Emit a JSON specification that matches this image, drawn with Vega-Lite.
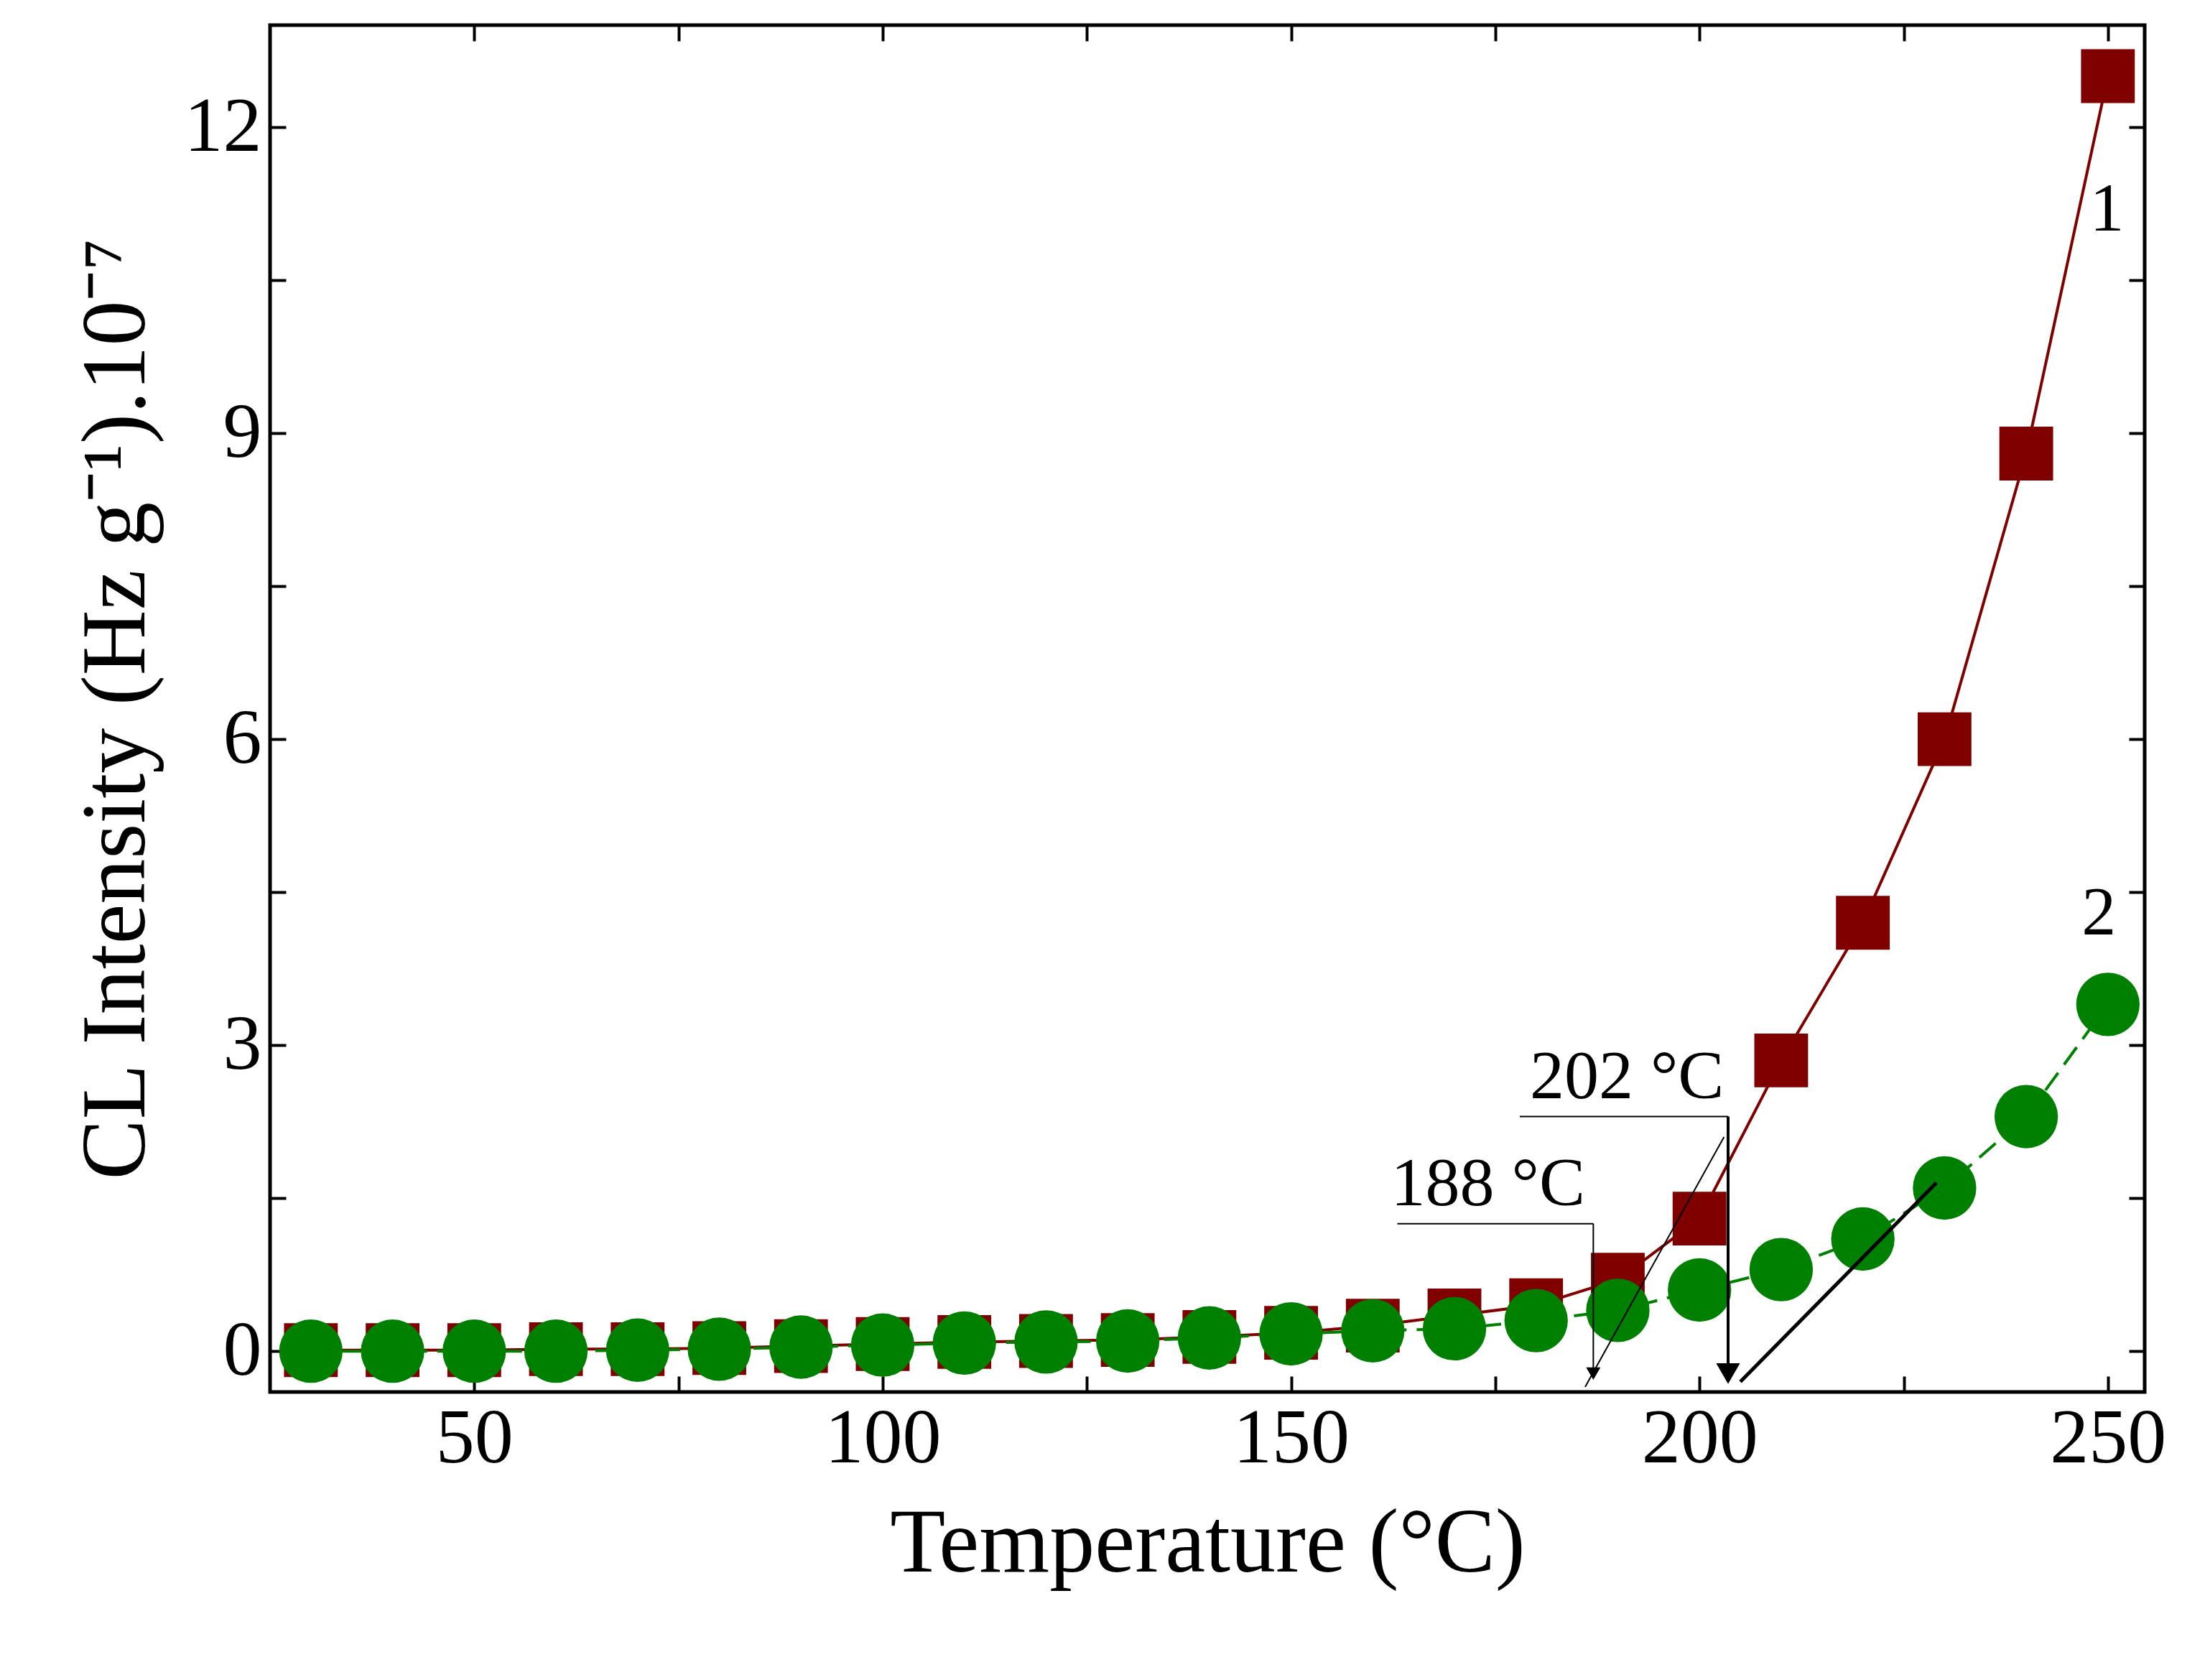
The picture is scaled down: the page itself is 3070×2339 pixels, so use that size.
{
"$schema":"https://vega.github.io/schema/vega-lite/v6.json",
"width":2610,"height":1903,"autosize":"none",
"padding":{"left":376,"top":35,"right":84,"bottom":401},
"background":"white",
"config":{"font":"Liberation Serif","view":{"stroke":"black","strokeWidth":5},
"axis":{"labelFont":"Liberation Serif","titleFont":"Liberation Serif","labelFontSize":108,"titleFontSize":126,"titleFontWeight":"normal","labelColor":"black","titleColor":"black","domain":false,"grid":false,"tickColor":"black","tickWidth":4,"tickSize":-22,"labelPadding":34}},
"datasets":{
"pts":[
{"T":30,"s":"1","v":0.01},{"T":40,"s":"1","v":0.01},{"T":50,"s":"1","v":0.01},{"T":60,"s":"1","v":0.02},{"T":70,"s":"1","v":0.02},{"T":80,"s":"1","v":0.03},{"T":90,"s":"1","v":0.05},{"T":100,"s":"1","v":0.07},{"T":110,"s":"1","v":0.09},{"T":120,"s":"1","v":0.1},{"T":130,"s":"1","v":0.11},{"T":140,"s":"1","v":0.14},{"T":150,"s":"1","v":0.18},{"T":160,"s":"1","v":0.25},{"T":170,"s":"1","v":0.35},{"T":180,"s":"1","v":0.45},{"T":190,"s":"1","v":0.7},{"T":200,"s":"1","v":1.3},{"T":210,"s":"1","v":2.85},{"T":220,"s":"1","v":4.2},{"T":230,"s":"1","v":6.0},{"T":240,"s":"1","v":8.8},{"T":250,"s":"1","v":12.5},
{"T":30,"s":"2","v":0.0},{"T":40,"s":"2","v":0.0},{"T":50,"s":"2","v":0.0},{"T":60,"s":"2","v":0.0},{"T":70,"s":"2","v":0.01},{"T":80,"s":"2","v":0.02},{"T":90,"s":"2","v":0.04},{"T":100,"s":"2","v":0.06},{"T":110,"s":"2","v":0.08},{"T":120,"s":"2","v":0.09},{"T":130,"s":"2","v":0.1},{"T":140,"s":"2","v":0.13},{"T":150,"s":"2","v":0.17},{"T":160,"s":"2","v":0.2},{"T":170,"s":"2","v":0.22},{"T":180,"s":"2","v":0.3},{"T":190,"s":"2","v":0.4},{"T":200,"s":"2","v":0.6},{"T":210,"s":"2","v":0.8},{"T":220,"s":"2","v":1.1},{"T":230,"s":"2","v":1.6},{"T":240,"s":"2","v":2.3},{"T":250,"s":"2","v":3.4}],
"segs":[
{"x1":163,"y1":1.25,"x2":187,"y2":1.25,"w":2},{"x1":187,"y1":1.25,"x2":187,"y2":-0.2,"w":2},{"x1":186,"y1":-0.35,"x2":203,"y2":2.1,"w":2},
{"x1":178,"y1":2.3,"x2":203.5,"y2":2.3,"w":2},{"x1":203.5,"y1":2.3,"x2":203.5,"y2":-0.2,"w":4},{"x1":205,"y1":-0.3,"x2":229,"y2":1.65,"w":5}],
"heads":[{"x":187,"y":-0.22,"sz":400},{"x":203.5,"y":-0.22,"sz":1100}],
"labels":[{"x":186,"y":1.25,"t":"188 °C"},{"x":203,"y":2.3,"t":"202 °C"},{"x":252,"y":10.8,"t":"1"},{"x":251,"y":3.9,"t":"2"}]
},
"encoding":{
"x":{"field":"T","type":"quantitative","scale":{"domain":[25,254.5],"nice":false,"zero":false},
 "axis":{"title":"Temperature (°C)","values":[50,75,100,125,150,175,200,225,250],"labelExpr":"datum.value%50==0?datum.label:''","titlePadding":30}},
"y":{"field":"v","type":"quantitative","scale":{"domain":[-0.4,13],"nice":false,"zero":false},
 "axis":{"title":"CL Intensity (Hz g⁻¹).10⁻⁷","values":[0,1.5,3,4.5,6,7.5,9,10.5,12],"labelExpr":"datum.value%3==0?datum.label:''","titlePadding":30}}
},
"resolve":{"axis":{"x":"independent","y":"independent"}},
"layer":[
{"layer":[
{"data":{"name":"pts"},"transform":[{"filter":"datum.s=='1'"}],"mark":{"type":"line","color":"#800000","strokeWidth":4}},
{"data":{"name":"pts"},"transform":[{"filter":"datum.s=='2'"}],"mark":{"type":"line","color":"#008000","strokeWidth":4,"strokeDash":[30,14]}},
{"data":{"name":"pts"},"transform":[{"filter":"datum.s=='1'"}],"mark":{"type":"point","shape":"square","filled":true,"opacity":1,"size":5600,"color":"#800000"}},
{"data":{"name":"pts"},"transform":[{"filter":"datum.s=='2'"}],"mark":{"type":"point","shape":"circle","filled":true,"opacity":1,"size":7800,"color":"#008000"}},
{"data":{"name":"segs"},"mark":{"type":"rule","color":"black"},"encoding":{"x":{"field":"x1","type":"quantitative"},"y":{"field":"y1","type":"quantitative"},"x2":{"field":"x2"},"y2":{"field":"y2"},"strokeWidth":{"field":"w","type":"quantitative","scale":null}}},
{"data":{"name":"heads"},"mark":{"type":"point","shape":"triangle-down","filled":true,"color":"black","opacity":1},"encoding":{"x":{"field":"x","type":"quantitative"},"y":{"field":"y","type":"quantitative"},"size":{"field":"sz","type":"quantitative","scale":null}}},
{"data":{"name":"labels"},"mark":{"type":"text","fontSize":96,"font":"Liberation Serif","align":"right","baseline":"bottom","dy":-6,"color":"black"},"encoding":{"x":{"field":"x","type":"quantitative"},"y":{"field":"y","type":"quantitative"},"text":{"field":"t"}}}
]},
{"data":{"name":"pts"},"mark":{"type":"point","opacity":0},
 "encoding":{
 "x":{"field":"T","type":"quantitative","axis":{"orient":"top","title":null,"labels":false,"values":[50,75,100,125,150,175,200,225,250]}},
 "y":{"field":"v","type":"quantitative","axis":{"orient":"right","title":null,"labels":false,"values":[0,1.5,3,4.5,6,7.5,9,10.5,12]}}}}
]
}
